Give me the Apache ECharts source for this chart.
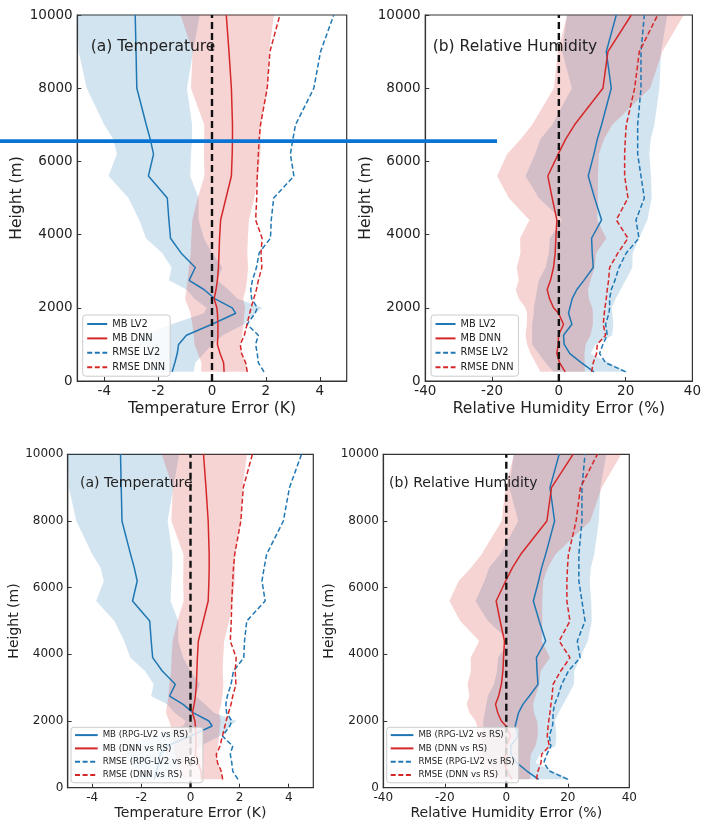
<!DOCTYPE html>
<html><head><meta charset="utf-8">
<script src="https://cdn.jsdelivr.net/npm/echarts@6/dist/echarts.min.js"></script>
<style>html,body{margin:0;padding:0;background:#fff}#c{width:704px;height:825px}</style>
</head><body><div id="c"></div>
<script>
// Heights (m)
const H = [250,500,750,1000,1250,1550,1850,2000,2250,2500,2750,3100,3500,3900,4400,5000,5600,6200,6600,7000,8000,9000,10000];

// Temperature (K)
const tMbLv2   = [-1.48,-1.38,-1.29,-1.24,-0.95,0.0,0.88,0.75,0.10,-0.30,-0.85,-0.62,-1.15,-1.54,-1.60,-1.66,-2.36,-2.17,-2.29,-2.44,-2.79,-2.82,-2.85];
const tMbDnn   = [0.45,0.43,0.30,0.20,0.22,0.22,0.20,0.18,0.08,0.15,0.20,0.24,0.26,0.28,0.32,0.52,0.72,0.75,0.76,0.76,0.72,0.63,0.53];
const tLv2Lo   = [-2.2,-2.2,-2.4,-2.7,-2.6,-1.5,-0.3,-0.2,-0.65,-0.95,-1.6,-1.5,-1.85,-2.45,-2.7,-3.1,-3.84,-3.53,-3.66,-4.0,-4.65,-4.95,-5.3];
const tLv2Hi   = [-0.68,-0.62,-0.3,0.0,0.4,1.2,1.6,1.87,0.95,0.6,0.2,0.38,0.0,-0.3,-0.5,-0.5,-0.81,-0.78,-0.74,-0.74,-0.93,-0.7,-0.46];
const tDnnLo   = [-0.40,-0.39,-0.52,-0.65,-0.68,-0.73,-0.80,-0.87,-1.0,-0.95,-0.9,-0.86,-0.79,-0.77,-0.73,-0.53,-0.28,-0.3,-0.29,-0.29,-0.78,-0.72,-1.17];
const tDnnHi   = [1.30,1.25,1.12,1.05,1.12,1.17,1.20,1.23,1.16,1.25,1.30,1.34,1.31,1.33,1.37,1.57,1.72,1.80,1.81,1.81,2.06,2.12,2.30];
const tRmseLv2 = [1.93,1.72,1.68,1.62,1.72,1.30,1.60,1.68,1.47,1.44,1.50,1.65,1.75,2.17,2.20,2.29,3.04,2.91,3.00,3.10,3.78,4.03,4.52];
const tRmseDnn = [1.31,1.25,1.10,1.05,1.20,1.30,1.40,1.45,1.55,1.65,1.72,1.85,1.82,1.86,1.62,1.66,1.68,1.72,1.75,1.80,2.05,2.15,2.52];

// Relative humidity (%)
const rMbLv2   = [10.5,6.7,3.3,1.6,1.4,3.9,2.9,3.3,4.0,5.4,7.5,10.3,10.0,9.8,12.8,10.7,8.8,10.5,11.5,12.8,15.7,14.2,17.2];
const rMbDnn   = [1.9,0.2,-0.6,-0.2,-0.1,1.4,-0.1,-1.6,-2.8,-3.5,-2.5,-1.6,-1.1,-0.9,-0.6,-2.0,-3.3,-0.2,2.0,4.7,13.2,14.7,21.7];
const rLv2Lo   = [-1.6,-4,-6,-8,-8,-8,-7.5,-7.5,-7,-6.5,-6,-4,-3,-2.7,1.0,-6,-10,-7.1,-5.6,-2,3.9,1,2.4];
const rLv2Hi   = [20.7,15,9.5,11,16,16.3,16,15.8,17,18.5,20,22,22.1,24,26.5,27.8,27.6,27.1,27.5,28.6,30.1,30.6,32.5];
const rDnnLo   = [-5.5,-7,-8.5,-9.5,-10,-9.6,-9.5,-10,-12,-12.9,-12,-12.6,-11.5,-11.6,-8.8,-15,-18.5,-15.5,-11.5,-8,-1.5,-0.3,2.5];
const rDnnHi   = [7.8,7.7,7.7,8,9.5,10.2,10.2,10,9,8.7,9.5,10.7,11.2,14.2,11.5,11.7,11.7,12,13.5,16,27.3,31,37.4];
const rRmseLv2 = [20,14,12.2,13.2,14.5,14,15,15.2,15.2,15.7,16.8,18,20.2,24,23.1,25.6,24.6,23.6,23.6,23.6,24.6,24.6,25.6];
const rRmseDnn = [9.8,10.3,11.3,11.5,14,13.3,13.6,13.8,14.2,14.5,14.9,15.2,17.7,20.7,17.2,20.7,19.7,19.7,19.9,20.2,22.7,24.1,29.6];

// Tick labels
const tTicks = [-4,-2,0,2,4];
const rTicks = [-40,-20,0,20,40];
const hTicks = [0,2000,4000,6000,8000,10000];

const topNames = ['MB LV2','MB DNN','RMSE LV2','RMSE DNN'];
const botNames = ['MB (RPG-LV2 vs RS)','MB (DNN vs RS)','RMSE (RPG-LV2 vs RS)','RMSE (DNN vs RS)'];

const FONT = 'DejaVu Sans';
const BLUE = '#1f77b4', RED = '#d62728';

const T = {mb1:tMbLv2, mb2:tMbDnn, lo1:tLv2Lo, hi1:tLv2Hi, lo2:tDnnLo, hi2:tDnnHi, rm1:tRmseLv2, rm2:tRmseDnn, min:-5, max:5, ticks:tTicks, xname:'Temperature Error (K)'};
const R = {mb1:rMbLv2, mb2:rMbDnn, lo1:rLv2Lo, hi1:rLv2Hi, lo2:rDnnLo, hi2:rDnnHi, rm1:rRmseLv2, rm2:rRmseDnn, min:-40, max:40, ticks:rTicks, xname:'Relative Humidity Error (%)'};

const panels = [
  {d:T, names:topNames, grid:{left:77.3, top:15, width:269.4, height:366}, fs:13.5, ns:15.5, lm:3, ngx:19.5, ngy:52.8, ylm:4.6,
   title:'(a) Temperature', tx:90.7, ty:47, ts:15.5,
   lg:{left:82.7, top:315, fs:9.8, iw:20, ih:10, gap:4.4, pad:[4,5,4,3.5]}},
  {d:R, names:topNames, grid:{left:425.3, top:15, width:269.7, height:366}, fs:13.5, ns:15.5, lm:3, ngx:19.5, ngy:51, ylm:4.6,
   title:'(b) Relative Humidity', tx:432.7, ty:47, ts:15.5,
   lg:{left:431, top:315, fs:9.8, iw:20, ih:10, gap:4.4, pad:[4,5,4,3.5]}},
  {d:T, names:botNames, grid:{left:67.7, top:454.3, width:245.6, height:333.4}, fs:12, ns:14, lm:4.5, ngx:18.6, ngy:46.5, ylm:4.4,
   title:'(a) Temperature', tx:80, ty:483.3, ts:14,
   lg:{left:71, top:727.3, fs:8.6, iw:22.7, ih:9, gap:4.3, pad:[3.3,4,3.3,3]}},
  {d:R, names:botNames, grid:{left:383.3, top:454.3, width:246, height:333.4}, fs:12, ns:14, lm:4.5, ngx:18.6, ngy:47, ylm:4.4,
   title:'(b) Relative Humidity', tx:389, ty:483.3, ts:14,
   lg:{left:386.7, top:727.3, fs:8.6, iw:22.7, ih:9, gap:4.3, pad:[3.3,4,3.3,3]}}
];

function pts(vals){ return H.map((h,i)=>[vals[i], h]); }

function band(lo, hi, color, idx, nm){
  return {type:'custom', name:nm, xAxisIndex:idx, yAxisIndex:idx, silent:true, z:1, clip:false,
    data:[[0,5000]], encode:{x:0, y:1},
    renderItem:function(params, api){
      const cs = params.coordSys;
      const cl = p=>[Math.max(cs.x, Math.min(cs.x+cs.width, p[0])), p[1]];
      const P = [];
      for(let i=0;i<H.length;i++) P.push(cl(api.coord([lo[i], H[i]])));
      for(let i=H.length-1;i>=0;i--) P.push(cl(api.coord([hi[i], H[i]])));
      return {type:'polygon', shape:{points:P}, style:{fill:color}};
    }};
}
function line(name, vals, color, dashed, idx){
  return {type:'line', name:name, xAxisIndex:idx, yAxisIndex:idx, data:pts(vals), symbol:'none', showSymbol:false,
    z:2, silent:true, lineStyle:{color:color, width:1.5, type: dashed ? [5,2.6] : 'solid'}, itemStyle:{color:color}};
}
const plain = v => String(v);

const grids=[], xAxes=[], yAxes=[], series=[], legends=[], graphics=[];
panels.forEach((p,i)=>{
  const d = p.d;
  grids.push(Object.assign({show:true, borderColor:'#333', borderWidth:1.2, backgroundColor:'transparent', containLabel:false}, p.grid));
  xAxes.push({type:'value', gridIndex:i, min:d.min, max:d.max, name:d.xname, nameLocation:'middle', nameGap:p.ngx,
    nameTextStyle:{fontFamily:FONT, fontSize:p.ns, color:'#222'},
    axisLine:{show:true, onZero:false, lineStyle:{color:'#333', width:1.2}},
    axisTick:{show:true, inside:true, length:4, customValues:d.ticks, lineStyle:{color:'#333', width:1}},
    axisLabel:{show:true, customValues:d.ticks, formatter:plain, margin:p.lm, fontFamily:FONT, fontSize:p.fs, color:'#222'},
    splitLine:{show:false}});
  yAxes.push({type:'value', gridIndex:i, min:0, max:10000, interval:2000, name:'Height (m)', nameLocation:'middle', nameGap:p.ngy,
    nameRotate:90, nameTextStyle:{fontFamily:FONT, fontSize:p.ns, color:'#222'},
    axisLine:{show:true, onZero:false, lineStyle:{color:'#333', width:1.2}},
    axisTick:{show:true, inside:true, length:4, customValues:hTicks, lineStyle:{color:'#333', width:1}},
    axisLabel:{show:true, customValues:hTicks, formatter:plain, margin:p.ylm, fontFamily:FONT, fontSize:p.fs, color:'#222'},
    splitLine:{show:false}});
  series.push(band(d.lo1, d.hi1, 'rgba(31,119,180,0.2)', i, 'bandLv2_'+i));
  series.push(band(d.lo2, d.hi2, 'rgba(214,39,40,0.2)', i, 'bandDnn_'+i));
  series.push(line(p.names[0], d.mb1, BLUE, false, i));
  series.push(line(p.names[1], d.mb2, RED, false, i));
  series.push(line(p.names[2], d.rm1, BLUE, true, i));
  series.push(line(p.names[3], d.rm2, RED, true, i));
  series.push({type:'line', name:'zero_'+i, xAxisIndex:i, yAxisIndex:i, data:[[0,0],[0,10000]], symbol:'none', z:3, silent:true,
    lineStyle:{color:'#111', width:2.4, type:[7,4]}});
  legends.push({show:true, orient:'vertical', left:p.lg.left, top:p.lg.top, itemWidth:p.lg.iw, itemHeight:p.lg.ih, itemGap:p.lg.gap,
    padding:p.lg.pad, borderColor:'#cccccc', borderWidth:1, borderRadius:3, backgroundColor:'rgba(255,255,255,0.8)',
    selectedMode:false, data:p.names, z:5, itemStyle:{opacity:0},
    textStyle:{fontFamily:FONT, fontSize:p.lg.fs, color:'#222', lineHeight:p.lg.ih}});
  graphics.push({type:'text', x:p.tx, y:p.ty, z:100, silent:true,
    style:{text:p.title, fontFamily:FONT, fontSize:p.ts, fill:'#222', verticalAlign:'middle', align:'left'}});
});
graphics.push({type:'rect', z:200, silent:true, shape:{x:0, y:139.3, width:497, height:3.6}, style:{fill:'#0a74d4'}});

const chart = echarts.init(document.getElementById('c'), null, {renderer:'canvas'});
chart.setOption({
  animation:false,
  backgroundColor:'#ffffff',
  textStyle:{fontFamily:FONT},
  grid:grids, xAxis:xAxes, yAxis:yAxes, series:series, legend:legends, graphic:graphics
});
</script></body></html>
